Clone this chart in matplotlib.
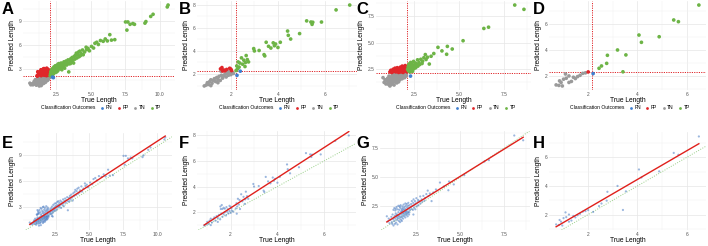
import numpy as np
import matplotlib
matplotlib.use("Agg")
import matplotlib.pyplot as plt
from matplotlib.lines import Line2D
from matplotlib.ticker import MultipleLocator, AutoMinorLocator, FormatStrFormatter

plt.rcParams['font.family'] = ['Liberation Sans', 'DejaVu Sans']

# ---- data (true length, predicted length) ----
# dataset 1 -> panels A / E
true_a = [0.58, 0.65, 0.72, 0.80, 0.85, 0.90, 0.95, 1.00, 1.02, 1.05,
          1.08, 1.10, 1.12, 1.15, 1.18, 1.20, 1.22, 1.25, 1.26, 1.28,
          1.30, 1.32, 1.35, 1.38, 1.40, 1.42, 1.45, 1.48, 1.50, 1.52,
          1.55, 1.58, 1.60, 1.62, 1.65, 1.68, 1.70, 1.72, 1.75, 1.78,
          1.80, 1.82, 1.85, 1.88, 1.90, 1.92, 1.95, 1.98,
          1.05, 1.35, 1.60, 1.75, 0.90, 1.15, 1.45, 1.55, 1.85, 1.25,
          1.65, 0.98, 1.40, 1.70,
          1.12, 1.18, 1.22, 1.10, 1.20, 1.25, 1.30, 1.35, 1.40, 1.45,
          1.50, 1.52, 1.55, 1.60, 1.62, 1.65, 1.70, 1.72, 1.75, 1.78,
          1.80, 1.82, 1.85, 1.88, 1.90, 1.92, 1.95, 1.97, 1.15, 1.60,
          1.38, 1.90,
          2.05, 2.08, 2.10, 2.12, 2.15, 2.18, 2.20, 2.22, 2.25, 2.28,
          2.30, 2.32, 2.35, 2.38, 2.40, 2.42, 2.45, 2.48, 2.50, 2.52,
          2.55, 2.58, 2.60, 2.62, 2.65, 2.69, 2.70, 2.75, 2.78, 2.80,
          2.85, 2.88, 2.90, 2.95, 3.00, 3.05, 3.08, 3.10, 3.15, 3.20,
          3.25, 3.30, 3.35, 3.40, 3.42, 3.48, 3.52, 3.55, 3.60, 3.65,
          3.70, 3.75, 3.80, 3.85, 3.90, 3.95, 4.00, 4.05, 4.10, 4.15,
          4.20, 4.25, 4.30, 4.40, 4.45, 4.55, 4.66, 4.70, 4.80, 4.90,
          5.05, 5.20, 5.30, 5.43, 5.55, 5.70, 5.90, 6.05, 6.20, 6.38,
          6.50, 6.74, 7.52, 7.62, 7.69, 7.85, 8.05, 8.17, 8.93, 9.00,
          9.35, 9.52, 10.55, 10.61,
          2.28, 2.22]
pred_a = [1.15, 0.95, 1.05, 0.95, 1.20, 1.10, 1.35, 1.00, 1.25, 1.45,
          1.15, 1.30, 1.55, 1.05, 1.40, 1.60, 1.25, 1.50, 0.80, 1.70,
          1.35, 1.55, 1.80, 1.20, 1.60, 1.45, 1.75, 1.30, 1.65, 1.90,
          1.50, 1.70, 1.35, 1.85, 1.60, 1.75, 1.45, 1.95, 1.65, 1.80,
          1.55, 1.90, 1.70, 1.85, 1.60, 1.95, 1.75, 1.88,
          0.90, 1.10, 1.20, 1.40, 1.40, 1.75, 1.95, 1.10, 1.50, 1.05,
          1.90, 1.60, 0.85, 1.25,
          2.05, 2.15, 2.30, 2.10, 2.45, 2.20, 2.60, 2.35, 2.10, 2.75,
          2.50, 2.25, 2.95, 2.40, 2.15, 2.65, 2.85, 2.30, 2.55, 2.10,
          3.05, 2.45, 2.70, 2.25, 2.90, 2.55, 2.35, 2.75, 2.60, 3.00,
          2.85, 2.15,
          2.10, 2.35, 2.60, 2.20, 2.80, 2.45, 2.15, 3.00, 2.55, 2.30,
          2.75, 3.20, 2.45, 2.90, 2.60, 3.35, 2.80, 3.05, 2.55, 3.40,
          2.95, 3.15, 2.70, 3.55, 3.00, 3.63, 3.25, 2.95, 3.45, 3.10,
          3.70, 3.30, 2.85, 3.55, 3.20, 3.85, 3.40, 3.05, 3.65, 3.95,
          3.45, 3.75, 4.10, 2.58, 3.60, 4.00, 3.63, 4.25, 3.85, 4.40,
          4.05, 3.70, 4.55, 4.20, 4.70, 4.95, 4.35, 4.80, 5.08, 4.50,
          5.20, 4.65, 4.90, 5.35, 4.75, 5.10, 5.70, 5.40, 5.55, 5.25,
          5.80, 5.60, 6.20, 6.33, 6.05, 6.55, 6.45, 6.75, 6.50, 7.29,
          6.60, 6.66, 8.90, 7.87, 8.90, 8.60, 8.70, 8.60, 8.75, 8.95,
          9.60, 9.87, 10.80, 11.04,
          1.85, 1.92]

# dataset 2 -> panels B / F
true_b = [0.87, 0.95, 1.00, 1.05, 1.10, 1.15, 1.20, 1.25, 1.30, 1.35,
          1.40, 1.45, 1.50, 1.55, 1.60, 1.65, 1.70, 1.75, 1.80, 1.85,
          1.90, 1.95, 2.00, 2.05, 2.11, 1.15, 1.45,
          1.56, 1.62, 1.70, 1.75, 1.58, 1.82, 1.95, 2.00, 2.03, 1.88,
          1.65,
          2.22, 2.28, 2.35, 2.25, 2.40, 2.31, 2.38, 2.45, 2.50, 2.55,
          2.62, 2.65, 2.70, 2.75, 2.60, 2.97, 3.00, 3.20, 3.41, 3.44,
          3.50, 3.60, 3.70, 3.80, 3.85, 3.90, 4.00, 4.10, 4.41, 4.44,
          4.54, 4.92, 5.22, 5.40, 5.45, 5.48, 5.85, 6.47, 7.05,
          2.26]
pred_b = [0.97, 1.05, 1.25, 1.10, 1.35, 1.50, 1.20, 1.45, 1.60, 1.35,
          1.70, 1.55, 1.80, 1.45, 1.90, 1.65, 1.85, 2.00, 1.75, 2.05,
          1.90, 2.10, 1.95, 2.12, 2.05, 1.00, 1.25,
          2.45, 2.56, 2.35, 2.28, 2.25, 2.40, 2.50, 2.42, 2.30, 2.24,
          2.26,
          2.30, 2.45, 2.60, 2.70, 2.25, 3.05, 2.95, 3.40, 2.85, 3.20,
          3.00, 3.60, 3.25, 3.05, 2.65, 4.20, 4.00, 4.04, 3.68, 3.57,
          4.75, 4.40, 4.25, 4.70, 4.45, 4.60, 4.30, 4.75, 5.72, 5.35,
          5.03, 5.50, 6.60, 6.50, 6.30, 6.48, 6.50, 7.55, 7.97,
          1.89]

# dataset 3 -> panels C / G
true_c = [0.79, 0.85, 0.90, 0.95, 1.00, 1.05, 1.08, 1.12, 1.15, 1.17,
          1.20, 1.22, 1.25, 1.28, 1.30, 1.32, 1.35, 1.38, 1.40, 1.42,
          1.45, 1.48, 1.50, 1.52, 1.55, 1.58, 1.60, 1.62, 1.65, 1.68,
          1.70, 1.72, 1.75, 1.78, 1.80, 1.82, 1.85, 1.88, 1.90, 1.92,
          1.95, 1.98, 2.00, 2.03, 2.06, 2.08, 1.25, 1.55, 1.40, 1.65,
          1.10, 1.35, 1.60, 1.85, 1.45, 1.70,
          1.17, 1.22, 1.28, 1.35, 1.40, 1.45, 1.50, 1.55, 1.58, 1.62,
          1.65, 1.68, 1.72, 1.75, 1.78, 1.80, 1.84, 1.88, 1.90, 1.93,
          1.95, 1.98, 2.00, 2.02, 2.05, 2.08, 1.30, 1.52, 1.85, 1.70,
          2.12, 2.15, 2.18, 2.20, 2.22, 2.25, 2.28, 2.30, 2.32, 2.35,
          2.38, 2.40, 2.42, 2.45, 2.48, 2.50, 2.55, 2.58, 2.60, 2.65,
          2.70, 2.72, 2.78, 2.82, 2.88, 2.95, 2.98, 3.05, 3.13, 3.17,
          3.25, 3.35, 3.45, 3.60, 3.83, 4.05, 4.31, 4.35, 4.62, 5.22,
          6.37, 6.63, 8.08, 8.59,
          2.31]
pred_c = [1.65, 1.20, 1.45, 1.05, 1.35, 1.60, 1.15, 1.80, 1.40, 0.86,
          1.55, 1.25, 1.70, 1.45, 1.90, 1.10, 1.60, 1.35, 1.80, 1.50,
          2.00, 1.25, 1.70, 1.45, 1.90, 1.60, 1.35, 1.80, 1.55, 2.05,
          1.70, 1.45, 1.90, 1.65, 2.00, 1.80, 1.55, 1.95, 1.75, 2.05,
          1.85, 1.65, 1.95, 2.05, 1.80, 1.98, 1.00, 1.15, 0.95, 1.25,
          1.00, 1.75, 2.05, 2.08, 1.65, 1.90,
          2.20, 2.35, 2.15, 2.45, 2.25, 2.55, 2.20, 2.40, 2.60, 2.30,
          2.15, 2.50, 2.35, 2.65, 2.20, 2.45, 2.30, 2.55, 2.15, 2.70,
          2.40, 2.25, 2.55, 2.80, 2.35, 2.60, 2.30, 2.50, 2.75, 2.22,
          2.20, 2.45, 2.70, 2.30, 2.95, 2.55, 2.20, 2.80, 3.10, 2.40,
          2.65, 2.95, 2.25, 2.75, 3.20, 2.50, 2.85, 3.05, 2.60, 2.95,
          3.35, 2.75, 3.10, 2.90, 3.40, 3.00, 3.22, 3.55, 3.85, 3.38,
          3.60, 2.95, 3.69, 3.95, 4.54, 4.20, 3.88, 4.63, 4.38, 5.17,
          6.34, 6.46, 8.57, 8.16,
          1.80]

# dataset 4 -> panels D / H
true_d = [0.70, 0.81, 0.95, 0.84, 0.90, 1.22, 1.32, 1.11, 1.22, 1.08,
          1.48, 1.57, 1.67, 1.78, 1.89, 1.40, 1.00,
          2.00, 2.20,
          2.44, 2.54, 2.75, 2.78, 3.19, 3.41, 3.53, 4.06, 4.16, 4.88,
          5.47, 5.66, 6.49]
pred_d = [1.31, 1.27, 1.23, 1.62, 1.50, 1.50, 1.58, 1.82, 2.00, 2.15,
          1.80, 1.95, 2.05, 2.20, 2.24, 1.90, 1.75,
          2.31, 2.18,
          2.59, 2.77, 2.97, 3.59, 4.00, 2.32, 3.62, 5.15, 4.59, 5.02,
          6.31, 6.18, 7.46]

# classification thresholds (dotted red lines)
thresh_x = [2.02, 2.2, 2.12, 2.16]
thresh_y = [2.0, 2.25, 2.08, 2.28]

top_letters = ["A", "B", "C", "D"]
bottom_letters = ["E", "F", "G", "H"]
outcomes = ["FN", "FP", "TN", "TP"]
outcome_colors = {"FN": "#3F7FD0", "FP": "#E0262A", "TN": "#9A9A9A", "TP": "#6DB446"}

x_steps = [2.5, 2, 2.5, 2]
y_steps = [3, 2, 2.5, 2]
x_fmts = ["%.1f", "%d", "%.1f", "%d"]
y_fmts = ["%d", "%d", "%.1f", "%d"]

datasets = [(true_a, pred_a), (true_b, pred_b), (true_c, pred_c), (true_d, pred_d)]

W, H = 708, 246
fig = plt.figure(figsize=(W / 100, H / 100), dpi=100)


def rect(l, r, t, b):
    return [l / W, 1 - b / H, (r - l) / W, (b - t) / H]


top_boxes = [(23, 175, 1, 90), (197, 357, 1, 90), (376, 531, 1, 90), (549, 706, 1, 90)]
bottom_boxes = [(23, 172, 133, 230), (197, 356, 131, 230), (380, 530, 131, 230), (549, 706, 132, 230)]


def style(ax, i):
    ax.xaxis.set_major_locator(MultipleLocator(x_steps[i]))
    ax.yaxis.set_major_locator(MultipleLocator(y_steps[i]))
    ax.xaxis.set_minor_locator(AutoMinorLocator(2))
    ax.yaxis.set_minor_locator(AutoMinorLocator(2))
    ax.xaxis.set_major_formatter(FormatStrFormatter(x_fmts[i]))
    ax.yaxis.set_major_formatter(FormatStrFormatter(y_fmts[i]))
    ax.grid(which="major", color="#E6E6E6", lw=0.5)
    ax.grid(which="minor", color="#F2F2F2", lw=0.35)
    ax.set_axisbelow(True)
    for s in ax.spines.values():
        s.set_visible(False)
    ax.tick_params(which="both", length=0, labelsize=3.5, labelcolor="#555555", pad=1.2)
    ax.set_xlabel("True Length", fontsize=4.8, labelpad=0.5)
    ax.set_ylabel("Predicted Length", fontsize=4.8, labelpad=1.5)


for i, (tx, py) in enumerate(datasets):
    tx = np.array(tx)
    py = np.array(py)

    # ---- top row: classification outcomes ----
    ax = fig.add_axes(rect(*top_boxes[i]))
    above_x = tx > thresh_x[i]
    above_y = py > thresh_y[i]
    groups = {
        "TN": ~above_x & ~above_y,
        "FP": ~above_x & above_y,
        "TP": above_x & above_y,
        "FN": above_x & ~above_y,
    }
    for k in ["TN", "FP", "TP", "FN"]:
        m = groups[k]
        ax.scatter(tx[m], py[m], s=7, color=outcome_colors[k], edgecolors="none", zorder=3)
    ax.axvline(thresh_x[i], color="#E0262A", lw=0.7, ls=(0, (1.2, 1.2)), zorder=2)
    ax.axhline(thresh_y[i], color="#E0262A", lw=0.7, ls=(0, (1.2, 1.2)), zorder=2)
    style(ax, i)

    handles = [Line2D([], [], ls="", marker=None, label="Classification Outcomes")]
    for k in outcomes:
        handles.append(Line2D([], [], ls="", marker="o", ms=2.0, color=outcome_colors[k],
                              markeredgewidth=0, label=k))
    ax.legend(handles=handles, loc="center", bbox_to_anchor=(0.5, -0.2), ncol=5,
              frameon=False, fontsize=3.6, handlelength=0.6, handletextpad=0.4,
              columnspacing=1.0, borderpad=0, borderaxespad=0)

    # ---- bottom row: regression vs identity ----
    ax2 = fig.add_axes(rect(*bottom_boxes[i]))
    ax2.scatter(tx, py, s=2.5, color="#4A7CC4", alpha=0.55, edgecolors="none", zorder=3)
    xlim = ax2.get_xlim()
    ylim = ax2.get_ylim()
    slope, intercept = np.polyfit(tx, py, 1)
    xs = np.array([tx.min(), tx.max()])
    ax2.plot(xs, intercept + slope * xs, color="#E0201B", lw=1.0, zorder=4)
    ax2.axline((xs[0], xs[0]), slope=1, color="#9AD08A", lw=0.7, ls=(0, (1, 1.5)), zorder=2)
    ax2.set_xlim(xlim)
    ax2.set_ylim(ylim)
    style(ax2, i)

    fig.text((2 + 177 * i) / W, 1 - 2 / H, top_letters[i], fontsize=12,
             fontweight="bold", va="top", ha="left")
    fig.text((2 + 177 * i) / W, 1 - 136 / H, bottom_letters[i], fontsize=12,
             fontweight="bold", va="top", ha="left")

fig.savefig("out.png", dpi=100)
